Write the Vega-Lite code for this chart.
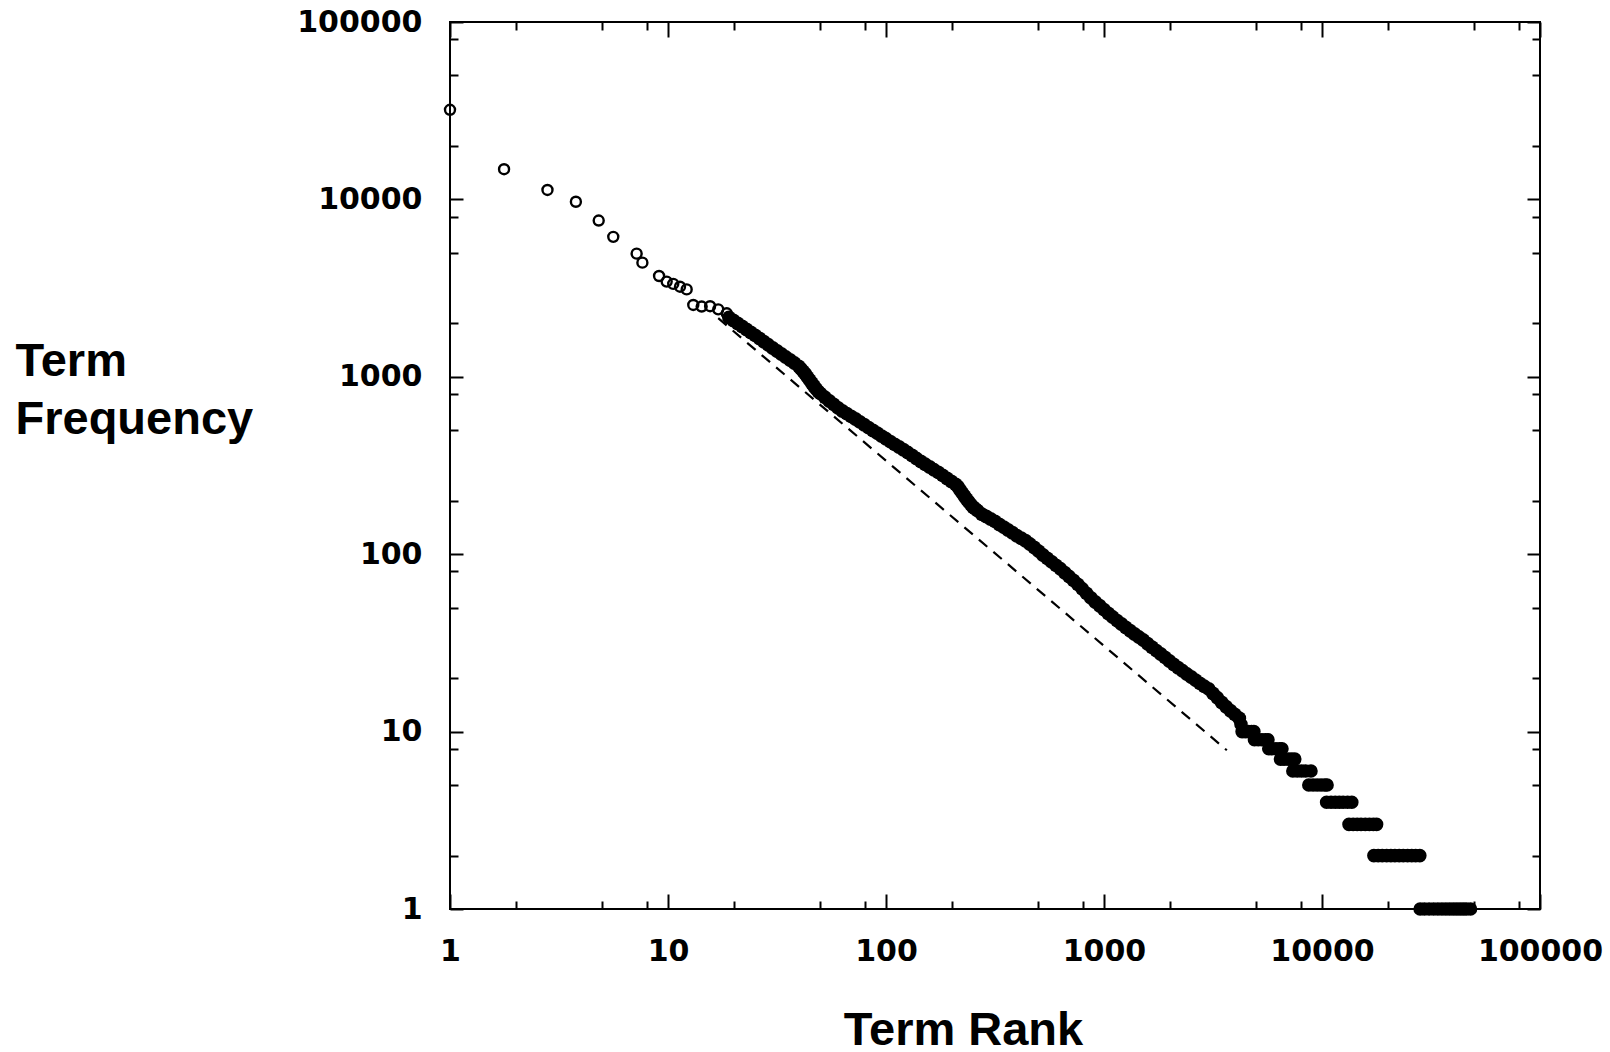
{
  "$schema": "https://vega.github.io/schema/vega-lite/v6.json",
  "autosize": "none",
  "padding": {"left": 450, "top": 22, "right": 70, "bottom": 143},
  "width": 1090,
  "height": 887,
  "background": "white",
  "config": {
    "view": {"stroke": "black", "strokeWidth": 2},
    "axis": {"grid": false, "domain": false, "tickColor": "black", "tickWidth": 2, "labelColor": "black", "titleColor": "black"}
  },
  "datasets": {
    "open": [
      {"rank": 1, "freq": 32000}, {"rank": 1.77, "freq": 14800}, {"rank": 2.8, "freq": 11300},
      {"rank": 3.78, "freq": 9700}, {"rank": 4.81, "freq": 7600}, {"rank": 5.61, "freq": 6150},
      {"rank": 7.18, "freq": 4950}, {"rank": 7.63, "freq": 4400}, {"rank": 9.1, "freq": 3700},
      {"rank": 9.86, "freq": 3440}, {"rank": 10.57, "freq": 3340}, {"rank": 11.35, "freq": 3220},
      {"rank": 12.18, "freq": 3110}, {"rank": 13.06, "freq": 2540}, {"rank": 14.27, "freq": 2490},
      {"rank": 15.6, "freq": 2500}, {"rank": 17.0, "freq": 2400}, {"rank": 18.6, "freq": 2280}
    ],
    "band": [
      {"rank": 19.05, "freq": 2160}, {"rank": 19.95, "freq": 2078}, {"rank": 20.89, "freq": 1998},
      {"rank": 21.88, "freq": 1922}, {"rank": 22.91, "freq": 1849}, {"rank": 23.99, "freq": 1778},
      {"rank": 25.12, "freq": 1711}, {"rank": 26.3, "freq": 1644}, {"rank": 27.54, "freq": 1577},
      {"rank": 28.84, "freq": 1514}, {"rank": 30.2, "freq": 1454}, {"rank": 31.62, "freq": 1397},
      {"rank": 33.11, "freq": 1344}, {"rank": 34.67, "freq": 1292}, {"rank": 36.31, "freq": 1243},
      {"rank": 38.02, "freq": 1195}, {"rank": 39.81, "freq": 1144}, {"rank": 40.74, "freq": 1108},
      {"rank": 41.69, "freq": 1073}, {"rank": 42.66, "freq": 1037}, {"rank": 43.65, "freq": 996},
      {"rank": 44.67, "freq": 957}, {"rank": 45.71, "freq": 919}, {"rank": 46.77, "freq": 885},
      {"rank": 47.86, "freq": 852}, {"rank": 48.98, "freq": 823}, {"rank": 50.12, "freq": 804},
      {"rank": 52.48, "freq": 766}, {"rank": 54.95, "freq": 731}, {"rank": 57.54, "freq": 699},
      {"rank": 60.26, "freq": 668}, {"rank": 63.1, "freq": 642}, {"rank": 66.07, "freq": 620},
      {"rank": 69.18, "freq": 598}, {"rank": 72.44, "freq": 578}, {"rank": 75.86, "freq": 557},
      {"rank": 79.43, "freq": 537}, {"rank": 83.18, "freq": 517}, {"rank": 87.1, "freq": 498},
      {"rank": 91.2, "freq": 481}, {"rank": 95.5, "freq": 463}, {"rank": 100, "freq": 447},
      {"rank": 104.7, "freq": 431}, {"rank": 109.6, "freq": 416}, {"rank": 114.8, "freq": 402},
      {"rank": 120.2, "freq": 388}, {"rank": 125.9, "freq": 374}, {"rank": 131.8, "freq": 360},
      {"rank": 138, "freq": 346}, {"rank": 144.5, "freq": 333}, {"rank": 151.4, "freq": 321},
      {"rank": 158.5, "freq": 310}, {"rank": 166, "freq": 299}, {"rank": 173.8, "freq": 289},
      {"rank": 182, "freq": 278}, {"rank": 190.6, "freq": 267}, {"rank": 199.5, "freq": 257},
      {"rank": 208.9, "freq": 247}, {"rank": 213.8, "freq": 240}, {"rank": 218.8, "freq": 230},
      {"rank": 223.9, "freq": 221}, {"rank": 229.1, "freq": 212}, {"rank": 234.4, "freq": 204},
      {"rank": 239.9, "freq": 197}, {"rank": 245.5, "freq": 190}, {"rank": 251.2, "freq": 184},
      {"rank": 257, "freq": 180}, {"rank": 263, "freq": 176}, {"rank": 275.4, "freq": 168},
      {"rank": 288.4, "freq": 163}, {"rank": 302, "freq": 158}, {"rank": 316.2, "freq": 153},
      {"rank": 331.1, "freq": 147}, {"rank": 346.7, "freq": 142}, {"rank": 363.1, "freq": 137},
      {"rank": 380.2, "freq": 132}, {"rank": 398.1, "freq": 127}, {"rank": 416.9, "freq": 123},
      {"rank": 436.5, "freq": 119}, {"rank": 457.1, "freq": 114}, {"rank": 478.6, "freq": 109},
      {"rank": 501.2, "freq": 104}, {"rank": 524.8, "freq": 99}, {"rank": 549.5, "freq": 94.7},
      {"rank": 575.4, "freq": 90.5}, {"rank": 602.6, "freq": 86.5}, {"rank": 631, "freq": 82.7},
      {"rank": 660.7, "freq": 78.6}, {"rank": 691.8, "freq": 74.8}, {"rank": 724.4, "freq": 71.2},
      {"rank": 758.6, "freq": 67.6}, {"rank": 794.3, "freq": 63.8}, {"rank": 831.8, "freq": 60.1},
      {"rank": 871, "freq": 56.7}, {"rank": 912, "freq": 53.8}, {"rank": 955, "freq": 51.2},
      {"rank": 1000, "freq": 48.7}, {"rank": 1047, "freq": 46.3}, {"rank": 1096, "freq": 44.2},
      {"rank": 1148, "freq": 42.2}, {"rank": 1202, "freq": 40.4}, {"rank": 1259, "freq": 38.6},
      {"rank": 1318, "freq": 37}, {"rank": 1380, "freq": 35.5}, {"rank": 1445, "freq": 34.1},
      {"rank": 1514, "freq": 32.8}, {"rank": 1585, "freq": 31.3}, {"rank": 1660, "freq": 29.9},
      {"rank": 1738, "freq": 28.6}, {"rank": 1820, "freq": 27.4}, {"rank": 1905, "freq": 26.2},
      {"rank": 1995, "freq": 25}, {"rank": 2089, "freq": 23.9}, {"rank": 2188, "freq": 22.9},
      {"rank": 2291, "freq": 22}, {"rank": 2399, "freq": 21.1}, {"rank": 2512, "freq": 20.3},
      {"rank": 2630, "freq": 19.5}, {"rank": 2754, "freq": 18.7}, {"rank": 2884, "freq": 18},
      {"rank": 3020, "freq": 17.4}, {"rank": 3162, "freq": 16.4}, {"rank": 3311, "freq": 15.5},
      {"rank": 3467, "freq": 14.6}, {"rank": 3631, "freq": 13.8}, {"rank": 3802, "freq": 13.1},
      {"rank": 3981, "freq": 12.5}, {"rank": 4169, "freq": 11.9}
    ],
    "steps": [
      {"rank": 4250, "freq": 11}, {"rank": 4300, "freq": 10}, {"rank": 4450, "freq": 10}, {"rank": 4600, "freq": 10}, {"rank": 4750, "freq": 10}, {"rank": 4870, "freq": 10},
      {"rank": 4900, "freq": 9}, {"rank": 5100, "freq": 9}, {"rank": 5300, "freq": 9}, {"rank": 5500, "freq": 9}, {"rank": 5650, "freq": 9},
      {"rank": 5700, "freq": 8}, {"rank": 5900, "freq": 8}, {"rank": 6150, "freq": 8}, {"rank": 6400, "freq": 8}, {"rank": 6550, "freq": 8},
      {"rank": 6450, "freq": 7}, {"rank": 6700, "freq": 7}, {"rank": 7000, "freq": 7}, {"rank": 7250, "freq": 7}, {"rank": 7500, "freq": 7},
      {"rank": 7350, "freq": 6}, {"rank": 7700, "freq": 6}, {"rank": 8050, "freq": 6}, {"rank": 8400, "freq": 6}, {"rank": 8900, "freq": 6},
      {"rank": 8700, "freq": 5}, {"rank": 9100, "freq": 5}, {"rank": 9500, "freq": 5}, {"rank": 9900, "freq": 5}, {"rank": 10300, "freq": 5}, {"rank": 10550, "freq": 5},
      {"rank": 10500, "freq": 4}, {"rank": 11000, "freq": 4}, {"rank": 11500, "freq": 4}, {"rank": 12000, "freq": 4}, {"rank": 12500, "freq": 4}, {"rank": 13100, "freq": 4}, {"rank": 13700, "freq": 4},
      {"rank": 13300, "freq": 3}, {"rank": 13900, "freq": 3}, {"rank": 14500, "freq": 3}, {"rank": 15100, "freq": 3}, {"rank": 15800, "freq": 3}, {"rank": 16500, "freq": 3}, {"rank": 17200, "freq": 3}, {"rank": 17800, "freq": 3},
      {"rank": 17300, "freq": 2}, {"rank": 18100, "freq": 2}, {"rank": 18900, "freq": 2}, {"rank": 19800, "freq": 2}, {"rank": 20700, "freq": 2}, {"rank": 21600, "freq": 2}, {"rank": 22600, "freq": 2}, {"rank": 23600, "freq": 2}, {"rank": 24700, "freq": 2}, {"rank": 25800, "freq": 2}, {"rank": 26900, "freq": 2}, {"rank": 28100, "freq": 2},
      {"rank": 28200, "freq": 1}, {"rank": 29500, "freq": 1}, {"rank": 31000, "freq": 1}, {"rank": 32500, "freq": 1}, {"rank": 34000, "freq": 1}, {"rank": 35500, "freq": 1}, {"rank": 37000, "freq": 1}, {"rank": 38500, "freq": 1}, {"rank": 40000, "freq": 1}, {"rank": 41500, "freq": 1}, {"rank": 43000, "freq": 1}, {"rank": 44500, "freq": 1}, {"rank": 46000, "freq": 1}, {"rank": 48000, "freq": 1}
    ],
    "fit": [
      {"rank": 17, "freq": 2140}, {"rank": 3660, "freq": 7.85}
    ]
  },
  "resolve": {"axis": {"x": "independent", "y": "independent"}},
  "layer": [
    {
      "data": {"name": "open"},
      "mark": {"type": "point", "shape": "circle", "filled": false, "stroke": "black", "strokeWidth": 2.4, "size": 100, "opacity": 1},
      "encoding": {
        "x": {"field": "rank", "type": "quantitative",
          "scale": {"type": "log", "domain": [1, 100000], "nice": false, "zero": false},
          "axis": {"orient": "bottom", "values": [1, 10, 100, 1000, 10000, 100000], "format": "d",
            "labelFont": "DejaVu Sans", "labelFontSize": 30, "labelFontWeight": "bold",
            "labelPadding": 42, "labelBaseline": "top", "labelAlign": "center", "labelFlush": false, "labelOverlap": false,
            "tickSize": -15,
            "title": "Term Rank", "titleFont": "Liberation Sans", "titleFontSize": 47, "titleFontWeight": "bold",
            "titleX": 513, "titleY": 135, "titleAlign": "center", "titleBaseline": "alphabetic"}},
        "y": {"field": "freq", "type": "quantitative",
          "scale": {"type": "log", "domain": [1, 100000], "nice": false, "zero": false},
          "axis": {"orient": "left", "values": [1, 10, 100, 1000, 10000, 100000], "format": "d",
            "labelFont": "DejaVu Sans", "labelFontSize": 30, "labelFontWeight": "bold",
            "labelPadding": 41, "labelBaseline": "middle", "labelAlign": "right", "labelFlush": false, "labelOverlap": false,
            "tickSize": -13,
            "title": ["Term", "Frequency"], "titleFont": "Liberation Sans", "titleFontSize": 47, "titleFontWeight": "bold",
            "titleAngle": 0, "titleX": -435, "titleY": 353, "titleAlign": "left", "titleBaseline": "alphabetic", "titleLineHeight": 58}}
      }
    },
    {
      "data": {"name": "band"},
      "mark": {"type": "point", "shape": "circle", "filled": true, "color": "black", "size": 195, "opacity": 1},
      "encoding": {
        "x": {"field": "rank", "type": "quantitative",
          "scale": {"type": "log", "domain": [1, 100000], "nice": false, "zero": false},
          "axis": {"orient": "bottom", "values": [2, 5, 8, 20, 50, 80, 200, 500, 800, 2000, 5000, 8000, 20000, 50000, 80000],
            "labels": false, "tickSize": -8, "title": null}},
        "y": {"field": "freq", "type": "quantitative",
          "scale": {"type": "log", "domain": [1, 100000], "nice": false, "zero": false},
          "axis": {"orient": "left", "values": [2, 5, 8, 20, 50, 80, 200, 500, 800, 2000, 5000, 8000, 20000, 50000, 80000],
            "labels": false, "tickSize": -8, "title": null}}
      }
    },
    {
      "data": {"name": "fit"},
      "mark": {"type": "line", "color": "black", "strokeWidth": 2.2, "strokeDash": [11, 8]},
      "encoding": {
        "x": {"field": "rank", "type": "quantitative",
          "scale": {"type": "log", "domain": [1, 100000], "nice": false, "zero": false},
          "axis": {"orient": "top", "values": [1, 10, 100, 1000, 10000, 100000],
            "labels": false, "tickSize": -15, "title": null}},
        "y": {"field": "freq", "type": "quantitative",
          "scale": {"type": "log", "domain": [1, 100000], "nice": false, "zero": false},
          "axis": {"orient": "right", "values": [1, 10, 100, 1000, 10000, 100000],
            "labels": false, "tickSize": -13, "title": null}}
      }
    },
    {
      "data": {"name": "steps"},
      "mark": {"type": "point", "shape": "circle", "filled": true, "color": "black", "size": 185, "opacity": 1},
      "encoding": {
        "x": {"field": "rank", "type": "quantitative",
          "scale": {"type": "log", "domain": [1, 100000], "nice": false, "zero": false},
          "axis": {"orient": "top", "values": [2, 5, 8, 20, 50, 80, 200, 500, 800, 2000, 5000, 8000, 20000, 50000, 80000],
            "labels": false, "tickSize": -8, "title": null}},
        "y": {"field": "freq", "type": "quantitative",
          "scale": {"type": "log", "domain": [1, 100000], "nice": false, "zero": false},
          "axis": {"orient": "right", "values": [2, 5, 8, 20, 50, 80, 200, 500, 800, 2000, 5000, 8000, 20000, 50000, 80000],
            "labels": false, "tickSize": -8, "title": null}}
      }
    }
  ]
}
